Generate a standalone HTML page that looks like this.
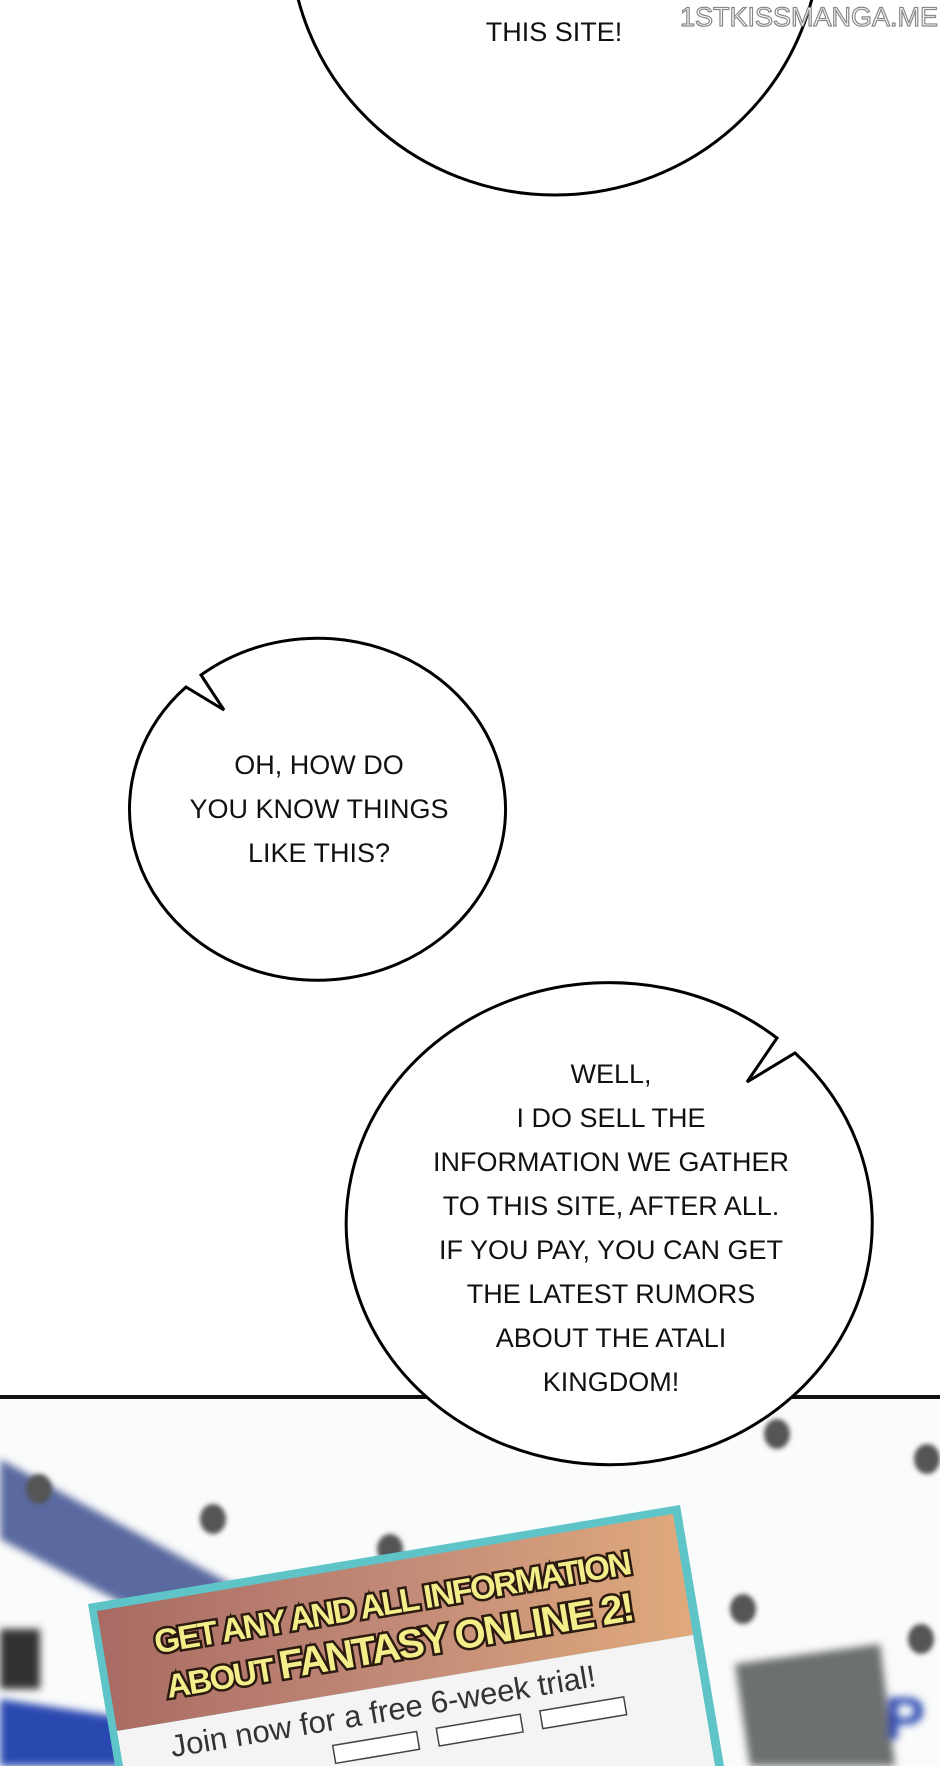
<!DOCTYPE html>
<html style="width:940px;height:1766px;overflow:hidden"><head><meta charset="utf-8"><style>
html,body{margin:0;padding:0;background:#fff}
body{width:940px;height:1766px;position:relative;overflow:hidden;font-family:"Liberation Sans",sans-serif}
.bg{position:absolute;left:0;top:1399px;width:940px;height:367px;background:#fafbfb;overflow:hidden}
svg{position:absolute;left:0;top:0}
</style></head><body>
<div class="bg">
 <svg width="940" height="367">
  <defs>
   <linearGradient id="g" x1="0" x2="1" y1="0" y2="0"><stop offset="0" stop-color="#a86a62"/><stop offset=".5" stop-color="#c28a78"/><stop offset="1" stop-color="#e0aa7c"/></linearGradient>
   <filter id="b" x="-20%" y="-20%" width="140%" height="140%"><feGaussianBlur stdDeviation="4"/></filter>
   <filter id="d" x="-50%" y="-50%" width="200%" height="200%"><feGaussianBlur stdDeviation="2.5"/></filter>
  </defs>
  <g filter="url(#b)">
   <polygon points="0,60 240,190 210,250 0,140" fill="#3d4f8f" opacity=".85"/>
   <polygon points="0,300 200,330 190,367 0,367" fill="#2a4ab0"/>
   <rect x="0" y="230" width="40" height="60" fill="#333"/>
   <polygon points="735,265 880,245 895,367 750,367" fill="#6d6f70"/>
   <text x="885" y="340" font-size="60" font-weight="bold" fill="#2a4ab0" font-family="Liberation Sans, sans-serif">P</text>
  </g>
  <g fill="#555" filter="url(#d)">
   <ellipse cx="39" cy="90" rx="13" ry="15"/>
   <ellipse cx="213" cy="120" rx="13" ry="15"/>
   <ellipse cx="390" cy="150" rx="13" ry="15"/>
   <ellipse cx="743" cy="210" rx="13" ry="15"/>
   <ellipse cx="921" cy="240" rx="13" ry="15"/>
   <ellipse cx="777" cy="35" rx="13" ry="15"/>
   <ellipse cx="927" cy="60" rx="13" ry="15"/>
  </g>
  <polygon points="88,205 680,106 724,367 115,367" fill="#5ec4c8"/>
  <polygon points="97,212 673,115 693,236 117,332" fill="url(#g)"/>
  <polygon points="117,332 693,236 715,367 123,367" fill="#f4f4f4"/>
  <g transform="translate(88,205) rotate(-9.5)">
   <g font-family="Liberation Sans Narrow, Liberation Sans, sans-serif" font-weight="bold" text-anchor="middle" fill="#f4ee8a" stroke="#2a1a10" stroke-width="5" paint-order="stroke" letter-spacing="-2">
    <text x="300" y="60" font-size="33">GET ANY AND ALL INFORMATION</text>
    <text x="300" y="106" font-size="33">ABOUT <tspan font-size="40">FANTASY ONLINE 2!</tspan></text>
   </g>
   <text x="58" y="165" font-size="31" fill="#333" font-family="Liberation Sans, sans-serif">Join now for a free 6-week trial!</text>
   <g fill="#fff" stroke="#444" stroke-width="1.5">
    <rect x="218" y="180" width="85" height="18"/><rect x="323" y="180" width="85" height="18"/><rect x="428" y="180" width="85" height="18"/>
   </g>
  </g>
 </svg>
</div>
<div style="position:absolute;left:0;top:1395px;width:940px;height:4px;background:#111"></div>
<svg width="940" height="1766">
 <g fill="#fff" stroke="#000" stroke-width="3">
  <ellipse cx="555" cy="-65" rx="265" ry="260"/>
  <path d="M186,687 L224,710 L201,675 A188,171 0 1 1 186,687 Z"/>
  <path d="M777,1038 L747,1082 L795,1053 A263,241 0 1 1 777,1038 Z"/>
 </g>
 <g font-family="Liberation Sans Narrow, Liberation Sans, sans-serif" font-size="27" text-anchor="middle" fill="#111">
  <text x="554" y="41">THIS SITE!</text>
  <text x="319" y="774">OH, HOW DO</text>
  <text x="319" y="818">YOU KNOW THINGS</text>
  <text x="319" y="862">LIKE THIS?</text>
  <text x="611" y="1083">WELL,</text>
  <text x="611" y="1127">I DO SELL THE</text>
  <text x="611" y="1171">INFORMATION WE GATHER</text>
  <text x="611" y="1215">TO THIS SITE, AFTER ALL.</text>
  <text x="611" y="1259">IF YOU PAY, YOU CAN GET</text>
  <text x="611" y="1303">THE LATEST RUMORS</text>
  <text x="611" y="1347">ABOUT THE ATALI</text>
  <text x="611" y="1391">KINGDOM!</text>
 </g>
 <text x="938" y="26" text-anchor="end" font-family="Liberation Sans, sans-serif" font-size="27" fill="#fff" stroke="#888" stroke-width="1.2">1STKISSMANGA.ME</text>
</svg>
</body></html>
